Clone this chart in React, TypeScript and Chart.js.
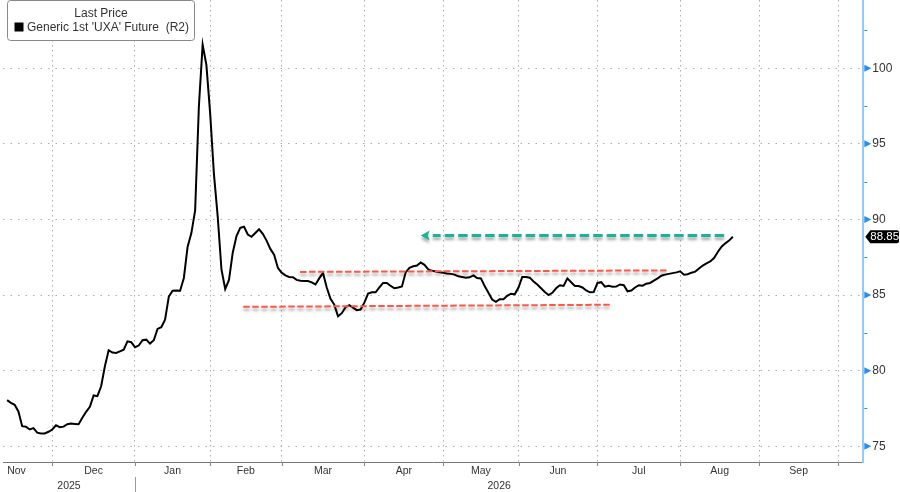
import React, { useEffect, useRef } from 'react';
import { Chart, registerables } from 'chart.js';

Chart.register(...registerables);

// ---- data (x = trading-day index, 0 = left edge of the window) ----
const priceStartDay = 1;
const prices = [
  78.05, 77.87, 77.74, 77.3, 76.33, 76.29, 76.11, 76.2, 75.9, 75.85,
  75.85, 75.96, 76.11, 76.39, 76.26, 76.3, 76.46, 76.5, 76.48, 76.46,
  76.88, 77.28, 77.61, 78.36, 78.31, 78.97, 80.29, 81.35, 81.2, 81.17,
  81.28, 81.39, 81.94, 81.88, 81.55, 81.66, 82.01, 82.05, 81.79, 82.01,
  82.76, 82.87, 83.37, 84.9, 85.29, 85.3, 85.29, 86.13, 88.2, 89.1,
  90.6, 97.5, 101.55, 100.2, 97.0, 93.0, 90.2, 86.7, 85.4, 86.0,
  87.8, 88.9, 89.45, 89.52, 89.0, 88.85, 89.1, 89.35, 89.05, 88.6,
  88.05, 87.67, 86.8, 86.48, 86.3, 86.2, 86.18, 86.0, 85.95, 85.93,
  85.93, 85.84, 85.7, 86.1, 86.46, 85.5, 84.75, 84.37, 83.6, 83.8,
  84.2, 84.33, 84.17, 84.0, 84.04, 84.5, 85.1, 85.18, 85.18, 85.5,
  85.8, 85.8, 85.6, 85.45, 85.5, 85.57, 86.5, 86.8, 86.9, 86.95,
  87.15, 87.0, 86.7, 86.6, 86.55, 86.5, 86.47, 86.43, 86.4, 86.35,
  86.24, 86.2, 86.15, 86.17, 86.3, 86.13, 86.1, 85.6, 85.15, 84.7,
  84.55, 84.72, 84.72, 84.95, 85.09, 85.05, 85.5, 86.2, 86.2, 86.15,
  85.9, 85.7, 85.45, 85.2, 85.0, 85.15, 85.45, 85.65, 85.6, 86.1,
  85.85, 85.6, 85.6, 85.5, 85.3, 85.18, 85.2, 85.8, 85.85, 85.55,
  85.62, 85.55, 85.56, 85.7, 85.65, 85.25, 85.3, 85.5, 85.65, 85.62,
  85.75, 85.8, 85.95, 86.1, 86.28, 86.35, 86.4, 86.45, 86.5, 86.57,
  86.35, 86.38, 86.48, 86.55, 86.75, 86.95, 87.1, 87.22, 87.45, 87.85,
  88.2, 88.42, 88.6, 88.85,
];

const monthNames = ['Nov', 'Dec', 'Jan', 'Feb', 'Mar', 'Apr', 'May', 'Jun', 'Jul', 'Aug', 'Sep'];
const monthStartDays = [-6, 13, 35, 55, 74, 96, 117, 137, 158, 180, 201, 222];
const yearNames = ['2025', '2026'];
const yearBreakDay = 35;

const xMinDay = -0.1;
const xMaxDay = 228.7;
const yMin = 73.96;
const yMax = 104.51;
const yMajorTicks = [75, 80, 85, 90, 95, 100];
const yMinorTicks = [77.5, 82.5, 87.5, 92.5, 97.5, 102.5];

// annotation lines: [fromDay, fromValue, toDay, toValue]
const resistanceLine = [78.9, 86.53, 176.8, 86.63];
const supportLine = [63.8, 84.22, 161.8, 84.36];
// arrow: [tailDay, headDay, value]
const targetArrow = [191.7, 111, 88.93];

const legendTitle = 'Last Price';
const seriesName = "Generic 1st 'UXA' Future  (R2)";

const FONT = '"Liberation Sans", Arial, sans-serif';

const decorPlugin = {
  id: 'decor',
  afterDatasetsDraw(chart: any) {
    const { ctx, scales } = chart;
    const x = scales.x;
    const y = scales.y;
    ctx.save();
    ctx.shadowColor = 'rgba(0,0,0,0.35)';
    ctx.shadowBlur = 3;
    ctx.shadowOffsetX = 0;
    ctx.shadowOffsetY = 3;
    // red dashed lines
    ctx.strokeStyle = '#ff5646';
    ctx.lineWidth = 2;
    ctx.setLineDash([6.5, 2.5]);
    [resistanceLine, supportLine].forEach((l) => {
      ctx.beginPath();
      ctx.moveTo(x.getPixelForValue(l[0]), y.getPixelForValue(l[1]));
      ctx.lineTo(x.getPixelForValue(l[2]), y.getPixelForValue(l[3]));
      ctx.stroke();
    });
    // green arrow
    const ay = y.getPixelForValue(targetArrow[2]);
    const tailX = x.getPixelForValue(targetArrow[0]);
    const headX = x.getPixelForValue(targetArrow[1]);
    ctx.strokeStyle = '#17b597';
    ctx.fillStyle = '#17b597';
    ctx.lineWidth = 3;
    ctx.setLineDash([9.5, 4]);
    ctx.beginPath();
    ctx.moveTo(tailX, ay);
    ctx.lineTo(headX + 12, ay);
    ctx.stroke();
    ctx.setLineDash([]);
    ctx.beginPath();
    ctx.moveTo(headX, ay);
    ctx.lineTo(headX + 9, ay - 5);
    ctx.lineTo(headX + 7, ay);
    ctx.lineTo(headX + 9, ay + 5);
    ctx.closePath();
    ctx.fill();
    ctx.restore();
  },
  afterDraw(chart: any) {
    const { ctx, chartArea: ca, scales } = chart;
    const x = scales.x;
    const y = scales.y;
    ctx.save();
    // right axis tick marks
    ctx.fillStyle = '#2a8cf2';
    yMajorTicks.forEach((v) => {
      const py = y.getPixelForValue(v);
      ctx.beginPath();
      ctx.moveTo(ca.right + 1, py - 3.5);
      ctx.lineTo(ca.right + 8, py);
      ctx.lineTo(ca.right + 1, py + 3.5);
      ctx.closePath();
      ctx.fill();
    });
    ctx.strokeStyle = '#2a8cf2';
    ctx.lineWidth = 1;
    yMinorTicks.forEach((v) => {
      const py = Math.round(y.getPixelForValue(v)) + 0.5;
      ctx.beginPath();
      ctx.moveTo(ca.right + 1, py);
      ctx.lineTo(ca.right + 4, py);
      ctx.stroke();
    });
    // right axis labels
    ctx.fillStyle = '#333';
    ctx.font = '12px ' + FONT;
    ctx.textAlign = 'left';
    ctx.textBaseline = 'middle';
    yMajorTicks.forEach((v) => ctx.fillText(String(v), ca.right + 9, y.getPixelForValue(v)));

    // last price tag
    const last = prices[prices.length - 1];
    const ty = y.getPixelForValue(last);
    const x0 = ca.right + 2;
    const x1 = 899;
    const h = 13;
    ctx.fillStyle = '#000';
    ctx.beginPath();
    ctx.moveTo(x0, ty);
    ctx.lineTo(x0 + 5, ty - h / 2);
    ctx.lineTo(x1 - 2, ty - h / 2);
    ctx.quadraticCurveTo(x1, ty - h / 2, x1, ty - h / 2 + 2);
    ctx.lineTo(x1, ty + h / 2 - 2);
    ctx.quadraticCurveTo(x1, ty + h / 2, x1 - 2, ty + h / 2);
    ctx.lineTo(x0 + 5, ty + h / 2);
    ctx.closePath();
    ctx.fill();
    ctx.fillStyle = '#fff';
    ctx.textAlign = 'center';
    ctx.font = '11.5px ' + FONT;
    ctx.fillText(last.toFixed(2), (x0 + 5 + x1) / 2, ty + 0.5);

    // month tick marks below axis
    ctx.strokeStyle = '#888';
    ctx.lineWidth = 1;
    monthStartDays.forEach((d) => {
      if (d <= x.min || d >= x.max) return;
      const px = Math.round(x.getPixelForValue(d)) + 0.5;
      ctx.beginPath();
      ctx.moveTo(px, ca.bottom);
      ctx.lineTo(px, ca.bottom + 4);
      ctx.stroke();
    });
    // month labels
    ctx.fillStyle = '#333';
    ctx.font = '10.5px ' + FONT;
    ctx.textAlign = 'center';
    monthNames.forEach((m, i) => {
      const c = (monthStartDays[i] + monthStartDays[i + 1]) / 2;
      ctx.fillText(m, x.getPixelForValue(c), ca.bottom + 9);
    });
    // year labels
    const yb = x.getPixelForValue(yearBreakDay);
    ctx.fillText(yearNames[0], (x.getPixelForValue(x.min) + yb) / 2, ca.bottom + 24);
    ctx.fillText(yearNames[1], (yb + x.getPixelForValue(x.max)) / 2, ca.bottom + 24);
    ctx.strokeStyle = '#999';
    ctx.beginPath();
    ctx.moveTo(Math.round(yb) + 0.5, ca.bottom + 15);
    ctx.lineTo(Math.round(yb) + 0.5, ca.bottom + 31);
    ctx.stroke();

    // legend box
    const bx = 7.5, byy = 0.5, bw = 187, bh = 40, r = 3;
    ctx.fillStyle = '#fff';
    ctx.strokeStyle = '#888';
    ctx.lineWidth = 1;
    ctx.beginPath();
    ctx.moveTo(bx + r, byy);
    ctx.lineTo(bx + bw - r, byy);
    ctx.quadraticCurveTo(bx + bw, byy, bx + bw, byy + r);
    ctx.lineTo(bx + bw, byy + bh - r);
    ctx.quadraticCurveTo(bx + bw, byy + bh, bx + bw - r, byy + bh);
    ctx.lineTo(bx + r, byy + bh);
    ctx.quadraticCurveTo(bx, byy + bh, bx, byy + bh - r);
    ctx.lineTo(bx, byy + r);
    ctx.quadraticCurveTo(bx, byy, bx + r, byy);
    ctx.closePath();
    ctx.fill();
    ctx.stroke();
    ctx.fillStyle = '#333';
    ctx.font = '12px ' + FONT;
    ctx.textAlign = 'center';
    ctx.fillText(legendTitle, bx + bw / 2, 14);
    ctx.fillStyle = '#000';
    ctx.fillRect(14.5, 22.5, 9, 9);
    ctx.fillStyle = '#333';
    ctx.textAlign = 'left';
    ctx.fillText(seriesName, 27, 27.5);
    ctx.restore();
  },
};

export default function App() {
  const ref = useRef<HTMLCanvasElement>(null);
  useEffect(() => {
    if (!ref.current) return;
    const chart = new Chart(ref.current, {
      type: 'line',
      data: {
        datasets: [
          {
            label: seriesName,
            data: prices.map((v, i) => ({ x: priceStartDay + i, y: v })),
            borderColor: '#000',
            borderWidth: 2,
            pointRadius: 0,
            tension: 0,
            fill: false,
          },
        ],
      },
      options: {
        animation: false,
        responsive: false,
        events: [],
        layout: { padding: { left: 3, right: 0, top: 0, bottom: 30 } },
        plugins: { legend: { display: false }, tooltip: { enabled: false } },
        scales: {
          x: {
            type: 'linear',
            min: xMinDay,
            max: xMaxDay,
            afterBuildTicks: (s: any) => {
              s.ticks = monthStartDays.filter((d) => d > s.min && d < s.max).map((v) => ({ value: v }));
            },
            ticks: { display: false },
            grid: { color: '#adadad', lineWidth: 1, drawTicks: false },
            border: { display: true, color: '#777', width: 1, dash: [1.5, 3.5] },
          },
          y: {
            type: 'linear',
            position: 'right',
            min: yMin,
            max: yMax,
            afterBuildTicks: (s: any) => {
              s.ticks = yMajorTicks.map((v) => ({ value: v }));
            },
            afterFit: (s: any) => {
              s.width = 36.7;
            },
            ticks: { display: false },
            grid: { color: '#adadad', lineWidth: 1, drawTicks: false },
            border: { display: true, color: '#92caf9', width: 2, dash: [1.5, 6] },
          },
        },
      },
      plugins: [decorPlugin],
    } as any);
    return () => chart.destroy();
  }, []);
  return (
    <div style={{ position: 'fixed', left: 0, top: 0, width: 900, height: 492, background: '#fff' }}>
      <canvas ref={ref} width={900} height={492} style={{ display: 'block', width: 900, height: 492 }} />
    </div>
  );
}
